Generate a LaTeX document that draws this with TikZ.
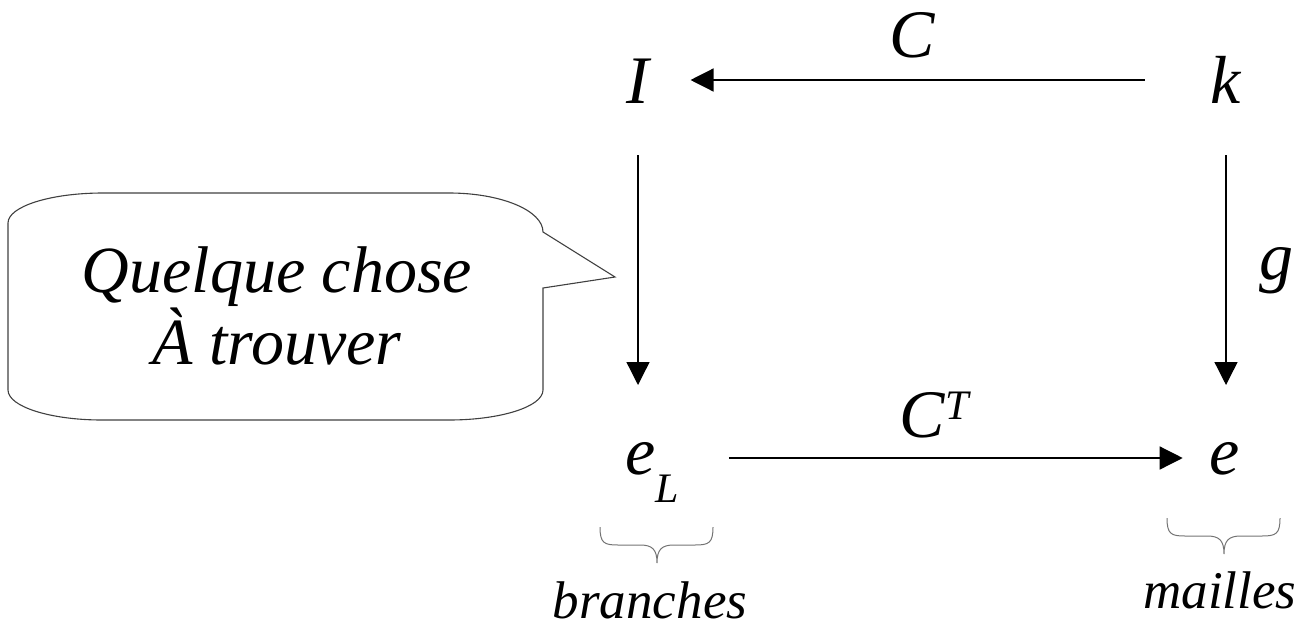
\documentclass[tikz,border=0pt]{standalone}
\usepackage{fontspec}
\setmainfont{Liberation Serif}
\usetikzlibrary{arrows.meta}
\definecolor{trait}{rgb}{0.25,0.25,0.25}
\definecolor{gris}{rgb}{0.45,0.45,0.45}

\begin{document}
\begin{tikzpicture}[x=1pt, y=-1pt,
		lettre/.style={inner sep=0pt, font=\fontsize{68}{72}\selectfont\itshape, text height=46pt, text depth=0pt},
		petite/.style={lettre, text height=32pt},
		fleche/.style={-{Triangle[length=23pt, width=23pt]}, line width=1.3pt},
		accolade/.pic={\draw[line width=1pt, color=gris] (0,0) .. controls (0,16) and (4,18) .. (18,18) -- (40,18)
			.. controls (52,18) and (57,22) .. (57,36) .. controls (57,22) and (62,18) .. (74,18) -- (95,18)
			.. controls (109,18) and (113,16) .. (113,0);},
		legende/.style={inner sep=0pt, anchor=base, font=\fontsize{53}{60}\selectfont\itshape}]
			\useasboundingbox (0,0) rectangle (1303,627);
			% la bulle
			\draw[line width=1.1pt, color=trait] (8,223) arc[start angle=180, end angle=270, x radius=95, y radius=30] -- (449,193)
				arc[start angle=270, end angle=360, x radius=94, y radius=39] -- (615,277) -- (543,288) -- (543,390)
				arc[start angle=0, end angle=90, x radius=94, y radius=30] -- (102,420)
				arc[start angle=90, end angle=180, x radius=94, y radius=30] -- cycle;
			\node[align=center, inner sep=0pt, font=\fontsize{66}{72}\selectfont\itshape] (bulle) at (277,306) {Quelque chose\\À trouver};
			% le carre
			\node[lettre] (I) at (638,80) {I};
			\node[lettre] (k) at (1226,80) {k};
			\node[petite] (eL) at (652,458) {e\raisebox{-28pt}{\fontsize{42}{42}\selectfont L}};
			\node[petite] (e) at (1225,458) {e};
			\node[lettre, anchor=base] (C) at (912,57) {C};
			\node[lettre, anchor=base] (CT) at (934,437) {C\raisebox{18pt}{\fontsize{42}{42}\selectfont T}};
			\node[lettre, anchor=base] (g) at (1276,279) {g};
			\draw[fleche, shorten <=66pt, shorten >=41pt] (k) -- (I);
			\draw[fleche, shorten <=52pt, shorten >=73pt] (I) -- (I |- eL);
			\draw[fleche, shorten <=52pt, shorten >=73pt] (k) -- (k |- e);
			\draw[fleche, shorten <=50pt, shorten >=27pt] (eL) -- (e);
			% accolades
			\pic at (600,527) {accolade};
			\pic at (1167,518) {accolade};
			\node[legende] (branches) at (650,618) {branches};
			\node[legende] (mailles) at (1220,608) {mailles};
		\end{tikzpicture}
\end{document}
